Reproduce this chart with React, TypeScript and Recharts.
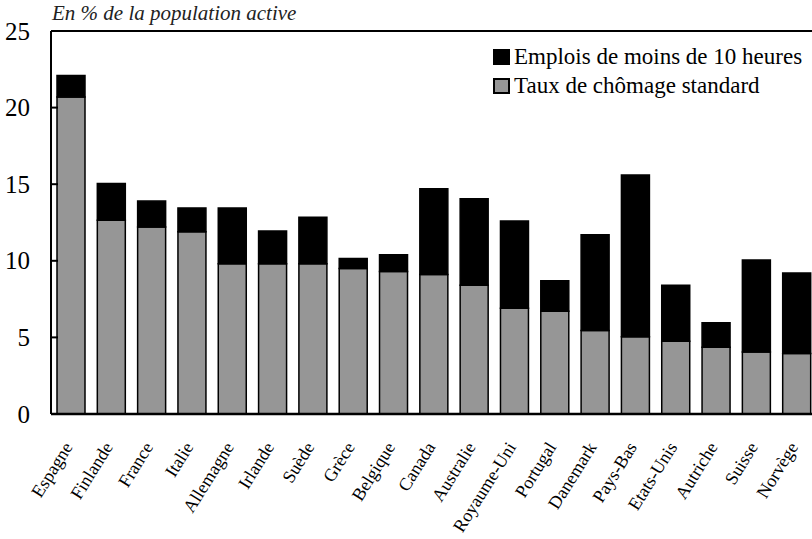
import React from "react";
import { BarChart, Bar, XAxis, YAxis, ReferenceLine } from "recharts";

const categories = [
  "Espagne", "Finlande", "France", "Italie", "Allemagne", "Irlande", "Suède", "Grèce",
  "Belgique", "Canada", "Australie", "Royaume-Uni", "Portugal", "Danemark", "Pays-Bas",
  "Etats-Unis", "Autriche", "Suisse", "Norvège",
];
const standardRate = [20.7, 12.65, 12.2, 11.9, 9.8, 9.8, 9.8, 9.5, 9.3, 9.1, 8.4, 6.9, 6.7, 5.45, 5.05, 4.75, 4.35, 4.05, 3.95];
const shortJobs = [1.4, 2.4, 1.7, 1.55, 3.65, 2.15, 3.05, 0.65, 1.1, 5.6, 5.65, 5.7, 2.0, 6.25, 10.55, 3.65, 1.6, 6.0, 5.25];
const yTicks = [0, 5, 10, 15, 20, 25];
const seriesNames = { short: "Emplois de moins de 10 heures", standard: "Taux de chômage standard" };
const titleText = "En % de la population active";

const data = categories.map((c, i) => ({ name: c, standard: standardRate[i], short: shortJobs[i] }));

const FONT = "'Times New Roman', 'Liberation Serif', 'DejaVu Serif', 'Noto Serif', Times, serif";

const YTick = (props: any) => {
  const { x, y, payload } = props;
  return (
    <g>
      <line x1={x} y1={y} x2={x + 7} y2={y} stroke="#000" strokeWidth={2} />
      <text x={x - 21} y={y} dy={8.5} textAnchor="end" fontFamily={FONT} fontSize={25} fill="#000">
        {payload.value}
      </text>
    </g>
  );
};

const XTick = (props: any) => {
  const { x, y, payload } = props;
  const ax = x + 2;
  const ay = y + 25;
  return (
    <text
      x={ax}
      y={ay}
      textAnchor="end"
      fontFamily={FONT}
      fontSize={18}
      fill="#000"
      transform={`rotate(-58, ${ax}, ${ay})`}
    >
      {payload.value}
    </text>
  );
};

export default function App() {
  return (
    <div style={{ position: "fixed", left: 0, top: 0, width: 812, height: 539, overflow: "hidden", background: "#fff" }}>
      <div
        style={{
          position: "absolute",
          left: 52,
          top: 0,
          fontFamily: FONT,
          fontStyle: "italic",
          fontSize: 21,
          lineHeight: "26px",
          color: "#222",
          whiteSpace: "nowrap",
        }}
      >
        {titleText}
      </div>
      <BarChart
        width={817}
        height={539}
        data={data}
        margin={{ top: 31, right: 0, bottom: 0, left: 0 }}
        barSize={28}
      >
        <XAxis
          dataKey="name"
          interval={0}
          height={125}
          tickLine={false}
          axisLine={{ stroke: "#000", strokeWidth: 2.5 }}
          tick={<XTick />}
        />
        <YAxis
          width={51}
          domain={[0, 25]}
          ticks={yTicks}
          tickLine={false}
          tickSize={0}
          tickMargin={0}
          axisLine={{ stroke: "#000", strokeWidth: 2 }}
          tick={<YTick />}
        />
        <ReferenceLine y={25} stroke="#000" strokeWidth={2} />
        <Bar dataKey="standard" stackId="a" fill="#969696" stroke="#000" strokeWidth={1.5} isAnimationActive={false} />
        <Bar dataKey="short" stackId="a" fill="#000" stroke="#000" strokeWidth={1.5} isAnimationActive={false} />
      </BarChart>
      <div
        style={{
          position: "absolute",
          left: 493,
          top: 42,
          fontFamily: FONT,
          fontSize: 23,
          color: "#000",
          lineHeight: "29px",
          whiteSpace: "nowrap",
        }}
      >
        <div style={{ display: "flex", alignItems: "center" }}>
          <span style={{ display: "inline-block", width: 17, height: 16, background: "#000", marginRight: 4 }} />
          <span>{seriesNames.short}</span>
        </div>
        <div style={{ display: "flex", alignItems: "center" }}>
          <span style={{ display: "inline-block", width: 13, height: 12, background: "#969696", border: "2px solid #000", marginRight: 4 }} />
          <span>{seriesNames.standard}</span>
        </div>
      </div>
    </div>
  );
}
